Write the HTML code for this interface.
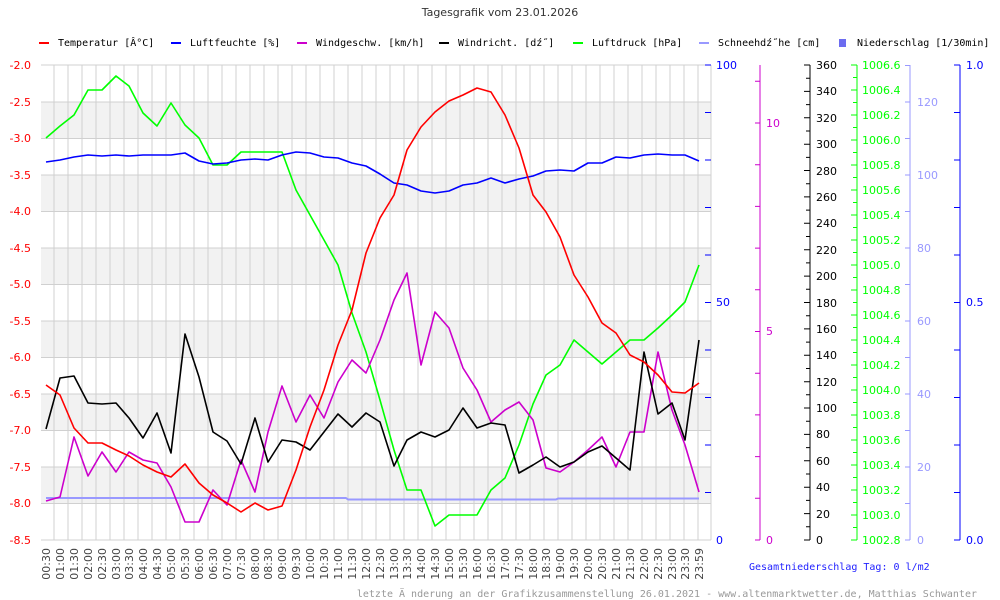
<!DOCTYPE html>
<html><head><meta charset="utf-8"><style>
body{margin:0;background:#fff}
svg{display:block}
.m{font-family:"DejaVu Sans Mono","Liberation Mono",monospace;font-size:10px}
.a{font-family:"DejaVu Sans","Liberation Sans",sans-serif;font-size:11px}
</style></head><body>
<svg width="1000" height="600" xmlns="http://www.w3.org/2000/svg">
<text x="500" y="16" text-anchor="middle" class="a" font-size="13" fill="#333">Tagesgrafik vom 23.01.2026</text>
<g class="m" fill="#000">
<rect x="39" y="42" width="10" height="2" fill="#f00"/><text x="58" y="46">Temperatur [Â°C]</text>
<rect x="171" y="42" width="10" height="2" fill="#00f"/><text x="190" y="46">Luftfeuchte [%]</text>
<rect x="297" y="42" width="10" height="2" fill="#c0c"/><text x="316" y="46">Windgeschw. [km/h]</text>
<rect x="439" y="42" width="10" height="2" fill="#000"/><text x="458" y="46">Windricht. [dź˝]</text>
<rect x="573" y="42" width="10" height="2" fill="#0f0"/><text x="592" y="46">Luftdruck [hPa]</text>
<rect x="699" y="42" width="10" height="2" fill="#99f"/><text x="718" y="46">Schneehdź˝he [cm]</text>
<rect x="839" y="39" width="7" height="8" fill="#6c6cf0"/><text x="857" y="46">Niederschlag [1/30min]</text>
</g>
<g fill="#f2f2f2">
<rect x="41" y="102" width="670" height="36.5"/><rect x="41" y="175" width="670" height="36.5"/><rect x="41" y="248" width="670" height="36.5"/><rect x="41" y="321" width="670" height="36.5"/><rect x="41" y="394" width="670" height="36.5"/><rect x="41" y="467" width="670" height="36.5"/>
</g>
<g stroke="#d0d0d0" stroke-width="1">
<path d="M41 65H711M41 102H711M41 138.5H711M41 175H711M41 211.5H711M41 248H711M41 284.5H711M41 321H711M41 357.5H711M41 394H711M41 430.5H711M41 467H711M41 503.5H711M41 540H711"/>
<path d="M54 65V540M68 65V540M82 65V540M96 65V540M110 65V540M124 65V540M138 65V540M152 65V540M166 65V540M180 65V540M194 65V540M208 65V540M222 65V540M236 65V540M250 65V540M264 65V540M278 65V540M292 65V540M306 65V540M320 65V540M334 65V540M348 65V540M362 65V540M376 65V540M390 65V540M404 65V540M418 65V540M432 65V540M446 65V540M460 65V540M474 65V540M488 65V540M502 65V540M516 65V540M530 65V540M544 65V540M558 65V540M572 65V540M586 65V540M600 65V540M614 65V540M628 65V540M642 65V540M656 65V540M670 65V540M684 65V540M698 65V540M711 65V540"/>
</g>
<g class="a" fill="#f00" text-anchor="end">
<text x="31" y="69">-2.0</text><text x="31" y="106">-2.5</text><text x="31" y="142">-3.0</text><text x="31" y="179">-3.5</text><text x="31" y="215">-4.0</text><text x="31" y="252">-4.5</text><text x="31" y="288">-5.0</text><text x="31" y="325">-5.5</text><text x="31" y="361">-6.0</text><text x="31" y="398">-6.5</text><text x="31" y="434">-7.0</text><text x="31" y="471">-7.5</text><text x="31" y="507">-8.0</text><text x="31" y="544">-8.5</text>
</g>
<!-- humidity axis ticks -->
<path d="M705 65H711M705 112.5H711M705 160H711M705 207.5H711M705 255H711M705 302.5H711M705 350H711M705 397.5H711M705 445H711M705 492.5H711" stroke="#00f"/>
<g class="a" fill="#00f"><text x="716" y="69">100</text><text x="716" y="306">50</text><text x="716" y="544">0</text></g>
<!-- wind speed -->
<path d="M760 65V540M755 540H760M755 498.3H760M755 456.6H760M755 414.9H760M755 373.2H760M755 331.5H760M755 289.8H760M755 248.1H760M755 206.4H760M755 164.7H760M755 123H760M755 81.3H760" stroke="#c0c"/>
<g class="a" fill="#c0c"><text x="766" y="544">0</text><text x="766" y="335">5</text><text x="766" y="127">10</text></g>
<!-- wind dir -->
<path d="M810 65V540M804 540H810M806 526.8H810M804 513.6H810M806 500.4H810M804 487.2H810M806 474H810M804 460.8H810M806 447.6H810M804 434.4H810M806 421.2H810M804 408H810M806 394.8H810M804 381.7H810M806 368.5H810M804 355.3H810M806 342.1H810M804 328.9H810M806 315.7H810M804 302.5H810M806 289.3H810M804 276.1H810M806 262.9H810M804 249.7H810M806 236.5H810M804 223.3H810M806 210.1H810M804 196.9H810M806 183.7H810M804 170.5H810M806 157.4H810M804 144.2H810M806 131H810M804 117.8H810M806 104.6H810M804 91.4H810M806 78.2H810M804 65H810" stroke="#000"/>
<g class="a" fill="#000"><text x="816" y="544">0</text><text x="816" y="518">20</text><text x="816" y="491">40</text><text x="816" y="465">60</text><text x="816" y="438">80</text><text x="816" y="412">100</text><text x="816" y="386">120</text><text x="816" y="359">140</text><text x="816" y="333">160</text><text x="816" y="307">180</text><text x="816" y="280">200</text><text x="816" y="254">220</text><text x="816" y="227">240</text><text x="816" y="201">260</text><text x="816" y="175">280</text><text x="816" y="148">300</text><text x="816" y="122">320</text><text x="816" y="95">340</text><text x="816" y="69">360</text></g>
<!-- pressure -->
<path d="M857 65V540M851 540H857M853 527.5H857M851 515H857M853 502.5H857M851 490H857M853 477.5H857M851 465H857M853 452.5H857M851 440H857M853 427.5H857M851 415H857M853 402.5H857M851 390H857M853 377.5H857M851 365H857M853 352.5H857M851 340H857M853 327.5H857M851 315H857M853 302.5H857M851 290H857M853 277.5H857M851 265H857M853 252.5H857M851 240H857M853 227.5H857M851 215H857M853 202.5H857M851 190H857M853 177.5H857M851 165H857M853 152.5H857M851 140H857M853 127.5H857M851 115H857M853 102.5H857M851 90H857M853 77.5H857M851 65H857" stroke="#0f0"/>
<g class="a" fill="#0f0"><text x="862" y="544">1002.8</text><text x="862" y="519">1003.0</text><text x="862" y="494">1003.2</text><text x="862" y="469">1003.4</text><text x="862" y="444">1003.6</text><text x="862" y="419">1003.8</text><text x="862" y="394">1004.0</text><text x="862" y="369">1004.2</text><text x="862" y="344">1004.4</text><text x="862" y="319">1004.6</text><text x="862" y="294">1004.8</text><text x="862" y="269">1005.0</text><text x="862" y="244">1005.2</text><text x="862" y="219">1005.4</text><text x="862" y="194">1005.6</text><text x="862" y="169">1005.8</text><text x="862" y="144">1006.0</text><text x="862" y="119">1006.2</text><text x="862" y="94">1006.4</text><text x="862" y="69">1006.6</text></g>
<!-- snow -->
<path d="M910 65V540M905 540H910M905 503.5H910M905 467H910M905 430.5H910M905 394H910M905 357.5H910M905 321H910M905 284.5H910M905 248H910M905 211.5H910M905 175H910M905 138.5H910M905 102H910M905 65.5H910" stroke="#99f"/>
<g class="a" fill="#99f"><text x="917" y="544">0</text><text x="917" y="471">20</text><text x="917" y="398">40</text><text x="917" y="325">60</text><text x="917" y="252">80</text><text x="917" y="179">100</text><text x="917" y="106">120</text></g>
<!-- precip -->
<path d="M960 65V540M954 540H960M954 492.5H960M954 445H960M954 397.5H960M954 350H960M954 302.5H960M954 255H960M954 207.5H960M954 160H960M954 112.5H960M954 65H960" stroke="#00f"/>
<g class="a" fill="#00f"><text x="966" y="544">0.0</text><text x="966" y="306">0.5</text><text x="966" y="69">1.0</text></g>
<!-- series -->
<g fill="none" stroke-width="1.6" stroke-linejoin="round">
<polyline stroke="#99f" stroke-width="2" points="46,498 346,498 348,499.5 556,499.5 558,498.5 699,498.5"/>
<polyline stroke="#0f0" points="46,138 60,126 74,115 88,90 102,90 116,76 129,86 143,113 157,126 171,103 185,125 199,138 213,165 227,165 241,152 255,152 268,152 282,152 296,190 310,215 324,240 338,265 352,313 366,352 380,400 394,450 407,490 421,490 435,526 449,515 463,515 477,515 491,490 505,478 519,445 533,404 546,375 560,365 574,340 588,352 602,364 616,352 630,340 644,340 658,328 672,315 685,302 699,265"/>
<polyline stroke="#00f" points="46,162 60,160 74,157 88,155 102,156 116,155 129,156 143,155 157,155 171,155 185,153 199,161 213,164 227,163 241,160 255,159 268,160 282,155 296,152 310,153 324,157 338,158 352,163 366,166 380,174 394,183 407,185 421,191 435,193 449,191 463,185 477,183 491,178 505,183 519,179 533,176 546,171 560,170 574,171 588,163 602,163 616,157 630,158 644,155 658,154 672,155 685,155 699,161"/>
<polyline stroke="#c0c" points="46,501 60,497 74,437 88,476 102,452 116,472 129,452 143,460 157,463 171,487 185,522 199,522 213,490 227,505 241,460 255,492 268,432 282,386 296,422 310,395 324,418 338,382 352,360 366,373 380,340 394,300 407,273 421,365 435,312 449,328 463,368 477,390 491,422 505,410 519,402 533,420 546,468 560,472 574,462 588,450 602,437 616,467 630,432 644,432 658,352 672,410 685,445 699,492"/>
<polyline stroke="#000" points="46,429 60,378 74,376 88,403 102,404 116,403 129,418 143,438 157,413 171,453 185,334 199,377 213,432 227,441 241,464 255,418 268,462 282,440 296,442 310,450 324,432 338,414 352,427 366,413 380,422 394,466 407,440 421,432 435,437 449,430 463,408 477,428 491,423 505,425 519,473 533,465 546,457 560,467 574,462 588,452 602,446 616,458 630,470 644,352 658,414 672,403 685,440 699,340"/>
<polyline stroke="#f00" points="46,385 60,395 74,428 88,443 102,443 116,450 129,456 143,465 157,472 171,477 185,464 199,483 213,495 227,503 241,512 255,503 268,510 282,506 296,470 310,427 324,390 338,345 352,310 366,253 380,218 394,195 407,150 421,127 435,112 449,101 463,95 477,88 491,92 505,115 519,148 533,195 546,212 560,237 574,275 588,297 602,323 616,333 630,355 644,362 658,375 672,392 685,393 699,383"/>
</g>
<g class="a" fill="#444" text-anchor="end" font-size="11.5">
<text transform="translate(50,548) rotate(-90)">00:30</text><text transform="translate(64,548) rotate(-90)">01:00</text><text transform="translate(78,548) rotate(-90)">01:30</text><text transform="translate(92,548) rotate(-90)">02:00</text><text transform="translate(106,548) rotate(-90)">02:30</text><text transform="translate(120,548) rotate(-90)">03:00</text><text transform="translate(133,548) rotate(-90)">03:30</text><text transform="translate(147,548) rotate(-90)">04:00</text><text transform="translate(161,548) rotate(-90)">04:30</text><text transform="translate(175,548) rotate(-90)">05:00</text><text transform="translate(189,548) rotate(-90)">05:30</text><text transform="translate(203,548) rotate(-90)">06:00</text><text transform="translate(217,548) rotate(-90)">06:30</text><text transform="translate(231,548) rotate(-90)">07:00</text><text transform="translate(245,548) rotate(-90)">07:30</text><text transform="translate(259,548) rotate(-90)">08:00</text><text transform="translate(272,548) rotate(-90)">08:30</text><text transform="translate(286,548) rotate(-90)">09:00</text><text transform="translate(300,548) rotate(-90)">09:30</text><text transform="translate(314,548) rotate(-90)">10:00</text><text transform="translate(328,548) rotate(-90)">10:30</text><text transform="translate(342,548) rotate(-90)">11:00</text><text transform="translate(356,548) rotate(-90)">11:30</text><text transform="translate(370,548) rotate(-90)">12:00</text><text transform="translate(384,548) rotate(-90)">12:30</text><text transform="translate(398,548) rotate(-90)">13:00</text><text transform="translate(411,548) rotate(-90)">13:30</text><text transform="translate(425,548) rotate(-90)">14:00</text><text transform="translate(439,548) rotate(-90)">14:30</text><text transform="translate(453,548) rotate(-90)">15:00</text><text transform="translate(467,548) rotate(-90)">15:30</text><text transform="translate(481,548) rotate(-90)">16:00</text><text transform="translate(495,548) rotate(-90)">16:30</text><text transform="translate(509,548) rotate(-90)">17:00</text><text transform="translate(523,548) rotate(-90)">17:30</text><text transform="translate(537,548) rotate(-90)">18:00</text><text transform="translate(550,548) rotate(-90)">18:30</text><text transform="translate(564,548) rotate(-90)">19:00</text><text transform="translate(578,548) rotate(-90)">19:30</text><text transform="translate(592,548) rotate(-90)">20:00</text><text transform="translate(606,548) rotate(-90)">20:30</text><text transform="translate(620,548) rotate(-90)">21:00</text><text transform="translate(634,548) rotate(-90)">21:30</text><text transform="translate(648,548) rotate(-90)">22:00</text><text transform="translate(662,548) rotate(-90)">22:30</text><text transform="translate(676,548) rotate(-90)">23:00</text><text transform="translate(689,548) rotate(-90)">23:30</text><text transform="translate(703,548) rotate(-90)">23:59</text>
</g>
<text x="749" y="570" class="m" fill="#22f">Gesamtniederschlag Tag: 0 l/m2</text>
<text x="977" y="597" class="m" fill="#999" text-anchor="end">letzte Ä nderung an der Grafikzusammenstellung 26.01.2021 - www.altenmarktwetter.de, Matthias Schwanter</text>
</svg>
</body></html>
